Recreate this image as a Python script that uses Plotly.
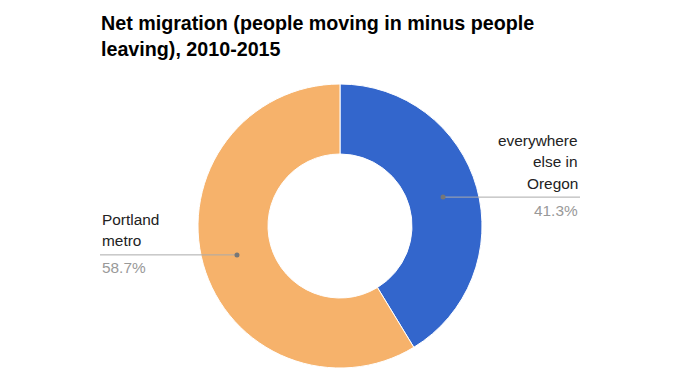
import math
import plotly.graph_objects as go

labels = ["everywhere else in Oregon", "Portland metro"]
label_lines = [["everywhere", "else in", "Oregon"], ["Portland", "metro"]]
values = [41.3, 58.7]
colors = ["#3366cc", "#f6b26b"]
title = "Net migration (people moving in minus people<br>leaving), 2010-2015"

W, H = 693, 389
cx, cy = 340, 226
R_out, R_in = 142, 72

def px(x):
    return x / W

def py(y):
    return 1 - y / H

fig = go.Figure()
fig.add_trace(go.Pie(
    labels=labels, values=values, sort=False, direction="clockwise", rotation=0,
    hole=R_in / R_out, textinfo="none", hoverinfo="label+percent",
    marker=dict(colors=colors, line=dict(color="white", width=1)),
    domain=dict(x=[px(cx - R_out), px(cx + R_out)], y=[py(cy + R_out), py(cy - R_out)]),
    showlegend=False,
))

shapes = []
annotations = []
total = sum(values)
cum = 0
r_mid = (R_in + R_out) / 2
for i, v in enumerate(values):
    mid = (cum + v / 2) / total * 2 * math.pi
    cum += v
    dx = cx + r_mid * math.sin(mid)
    dy = cy - r_mid * math.cos(mid)
    right = math.sin(mid) > 0
    tx = 580 if right else 100
    anchor = "right" if right else "left"
    shapes.append(dict(type="line", xref="paper", yref="paper",
                       x0=px(dx), x1=px(tx), y0=py(dy), y1=py(dy),
                       line=dict(color="#aaaaaa", width=1)))
    shapes.append(dict(type="circle", xref="paper", yref="paper",
                       x0=px(dx - 2.5), x1=px(dx + 2.5), y0=py(dy + 2.5), y1=py(dy - 2.5),
                       fillcolor="#777777", line=dict(color="#777777", width=0)))
    lines = label_lines[i]
    n = len(lines)
    for j, t in enumerate(lines):
        yy = dy - 14 - 21.3 * (n - 1 - j)
        annotations.append(dict(text=t, x=px(tx), y=py(yy), xref="paper", yref="paper",
                                xanchor=anchor, yanchor="middle", showarrow=False,
                                font=dict(family="Liberation Sans, Arial", size=15.4, color="#222222")))
    annotations.append(dict(text=f"{v / total * 100:.1f}%", x=px(tx), y=py(dy + 13), xref="paper", yref="paper",
                            xanchor=anchor, yanchor="middle", showarrow=False,
                            font=dict(family="Liberation Sans, Arial", size=15.4, color="#999999")))

annotations.append(dict(text=f"<b>{title}</b>", x=px(100), y=py(11), xref="paper", yref="paper",
                        xanchor="left", yanchor="top", align="left", showarrow=False, borderpad=0,
                        font=dict(family="Liberation Sans, Arial", size=19.7, color="#000000")))

fig.update_layout(
    width=W, height=H,
    margin=dict(l=0, r=0, t=0, b=0),
    paper_bgcolor="white", plot_bgcolor="white",
    shapes=shapes, annotations=annotations,
)

fig.write_html("out.html", config={"displayModeBar": False},
               post_script="document.body.style.margin='0';document.body.style.overflow='hidden';")
